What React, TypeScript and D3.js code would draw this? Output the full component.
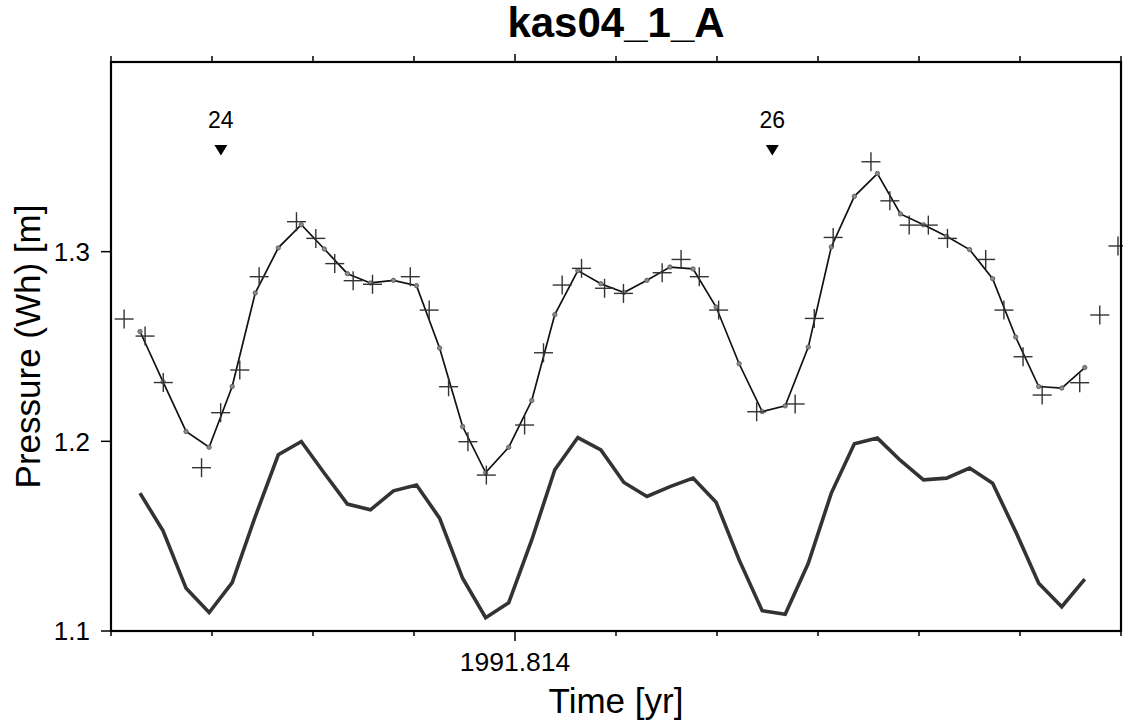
import React from "react";
import * as d3 from "d3";

// ---- data ----
const START_YEAR = 1991.8121436; // time of first hourly sample
const HOURS_PER_YEAR = 8766;

// hourly samples (hour offsets from START_YEAR)
const hourOffsets = [
  0, 1, 2, 3, 4, 5, 6, 7, 8, 9, 10, 11, 12, 13, 14, 15, 16, 17, 18, 19, 20,
  21, 22, 23, 24, 25, 26, 27, 28, 29, 30, 31, 32, 33, 34, 35, 36, 37, 38, 39,
  40, 41,
];

// upper model line with dots
const modelValues = [
  1.2579, 1.2314, 1.2052, 1.1969, 1.2289, 1.2782, 1.302, 1.3142, 1.3014,
  1.2884, 1.2835, 1.2849, 1.2821, 1.2492, 1.2078, 1.1835, 1.1969, 1.2215,
  1.2668, 1.29, 1.2831, 1.2785, 1.2849, 1.2919, 1.2909, 1.2708, 1.2409,
  1.2157, 1.2187, 1.2497, 1.3025, 1.3292, 1.3412, 1.3199, 1.3142, 1.3081,
  1.3011, 1.2858, 1.255, 1.2289, 1.2281, 1.2389,
];

// lower thick line
const lowerValues = [
  1.1727, 1.1528, 1.1225, 1.1097, 1.1255, 1.1603, 1.1929, 1.1999, 1.1832,
  1.1669, 1.1639, 1.1739, 1.177, 1.1595, 1.1278, 1.107, 1.1149, 1.148, 1.185,
  1.202, 1.1955, 1.1783, 1.1709, 1.1761, 1.1806, 1.1679, 1.1375, 1.1107,
  1.1088, 1.1357, 1.1727, 1.1987, 1.2017, 1.1899, 1.1797, 1.1806, 1.1859,
  1.1779, 1.1524, 1.1252, 1.1128, 1.1274,
];

// observations (plus symbols)
const obsHours = [
  -0.69, 0.22, 1.01, 2.67, 3.5, 4.33, 5.17, 6.79, 7.63, 8.45, 9.25, 10.09,
  11.73, 12.55, 13.39, 14.23, 15.03, 16.69, 17.51, 18.32, 19.16, 20.16, 20.98,
  22.66, 23.48, 24.27, 25.11, 26.76, 28.43, 29.26, 30.08, 31.72, 32.54, 33.38,
  34.21, 35.04, 36.7, 37.49, 38.32, 39.15, 40.78, 41.65, 42.44,
];
const obsValues = [
  1.2645, 1.2555, 1.231, 1.1861, 1.2151, 1.2376, 1.2868, 1.3158, 1.307,
  1.2937, 1.2847, 1.2828, 1.2868, 1.2692, 1.2288, 1.1998, 1.1822, 1.2086,
  1.2467, 1.2824, 1.2912, 1.2807, 1.278, 1.2889, 1.2959, 1.2868, 1.2692,
  1.2156, 1.2197, 1.2648, 1.3075, 1.3474, 1.3268, 1.314, 1.314, 1.307, 1.2959,
  1.2692, 1.2446, 1.2244, 1.2309, 1.2666, 1.303,
];

// event markers
const eventHours = [3.51, 27.44];
const eventLabels = ["24", "26"];

// axis ticks
const xDomain = [1991.812, 1991.817];
const xMinorTicks = [
  1991.812, 1991.8125, 1991.813, 1991.8135, 1991.814, 1991.8145, 1991.815,
  1991.8155, 1991.816, 1991.8165, 1991.817,
];
const xMajorTicks = [1991.814];
const xMajorLabels = ["1991.814"];
const yTicks = [1.1, 1.2, 1.3];
const yTickLabels = ["1.1", "1.2", "1.3"];
const yDomain = [1.1, 1.4];

const W = 1123;
const H = 722;
const M = { left: 111, right: 1121, top: 62, bottom: 631 };
const FONT = "'Liberation Sans', Arial, Helvetica, sans-serif";

const toYear = (h: number) => START_YEAR + h / HOURS_PER_YEAR;

export default function App() {
  const x = d3.scaleLinear().domain(xDomain).range([M.left, M.right]);
  const y = d3.scaleLinear().domain(yDomain).range([M.bottom, M.top]);

  const modelPts = hourOffsets.map((h, i) => [toYear(h), modelValues[i]] as [number, number]);
  const lowerPts = hourOffsets.map((h, i) => [toYear(h), lowerValues[i]] as [number, number]);

  const line = d3
    .line<[number, number]>()
    .x((d) => x(d[0]))
    .y((d) => y(d[1]));

  const plusHalf = 9.5;

  return (
    <svg
      width={W}
      height={H}
      style={{ position: "absolute", left: 0, top: 0, background: "#fff" }}
      fontFamily={FONT}
    >
      <rect x={0} y={0} width={W} height={H} fill="#fff" />
      {/* title */}
      <text
        x={(M.left + M.right) / 2}
        y={37}
        textAnchor="middle"
        fontSize={42}
        fontWeight="bold"
        fill="#000"
      >
        kas04_1_A
      </text>

      {/* lower thick line */}
      <path d={line(lowerPts) || ""} fill="none" stroke="#333" strokeWidth={3.6} strokeLinejoin="miter" />

      {/* model line */}
      <path d={line(modelPts) || ""} fill="none" stroke="#111" strokeWidth={1.7} />
      {modelPts.map((d, i) => (
        <circle key={"c" + i} cx={x(d[0])} cy={y(d[1])} r={2.2} fill="#8a8a8a" stroke="#555" strokeWidth={0.8} />
      ))}

      {/* observations */}
      {obsHours.map((h, i) => {
        const cx = x(toYear(h));
        const cy = y(obsValues[i]);
        return (
          <g key={"p" + i} stroke="#333" strokeWidth={1.4}>
            <line x1={cx - plusHalf} x2={cx + plusHalf} y1={cy} y2={cy} />
            <line x1={cx} x2={cx} y1={cy - plusHalf} y2={cy + plusHalf} />
          </g>
        );
      })}

      {/* event markers */}
      {eventHours.map((h, i) => {
        const cx = x(toYear(h));
        return (
          <g key={"e" + i}>
            <text x={cx} y={128} textAnchor="middle" fontSize={23} fill="#000">
              {eventLabels[i]}
            </text>
            <path d={`M${cx - 6.5},145 L${cx + 6.5},145 L${cx},155.5 Z`} fill="#000" />
          </g>
        );
      })}

      {/* frame */}
      <rect
        x={M.left}
        y={M.top}
        width={M.right - M.left}
        height={M.bottom - M.top}
        fill="none"
        stroke="#000"
        strokeWidth={2.2}
      />

      {/* x ticks bottom & top */}
      {xMinorTicks.map((t, i) => {
        const isMajor = xMajorTicks.some((m) => Math.abs(m - t) < 1e-9);
        return (
          <g key={"xt" + i} stroke="#000" strokeWidth={1.5}>
            <line x1={x(t)} x2={x(t)} y1={M.bottom} y2={M.bottom + (isMajor ? 10 : 5)} />
            <line x1={x(t)} x2={x(t)} y1={M.top} y2={M.top - (isMajor ? 8 : 6)} />
          </g>
        );
      })}
      {xMajorTicks.map((t, i) => (
        <text key={"xl" + i} x={x(t)} y={671} textAnchor="middle" fontSize={26.5} fill="#000">
          {xMajorLabels[i]}
        </text>
      ))}

      {/* y ticks */}
      {yTicks.map((t, i) => (
        <g key={"yt" + i}>
          <line x1={M.left - 10} x2={M.left} y1={y(t)} y2={y(t)} stroke="#000" strokeWidth={1.5} />
          <text x={90} y={y(t)} dy="0.36em" textAnchor="end" fontSize={26} fill="#000">
            {yTickLabels[i]}
          </text>
        </g>
      ))}

      {/* axis labels */}
      <text x={(M.left + M.right) / 2} y={713} textAnchor="middle" fontSize={35} fill="#000">
        Time [yr]
      </text>
      <text
        transform={`translate(40,${(M.top + M.bottom) / 2}) rotate(-90)`}
        textAnchor="middle"
        fontSize={35}
        fill="#000"
      >
        Pressure (Wh) [m]
      </text>
    </svg>
  );
}
